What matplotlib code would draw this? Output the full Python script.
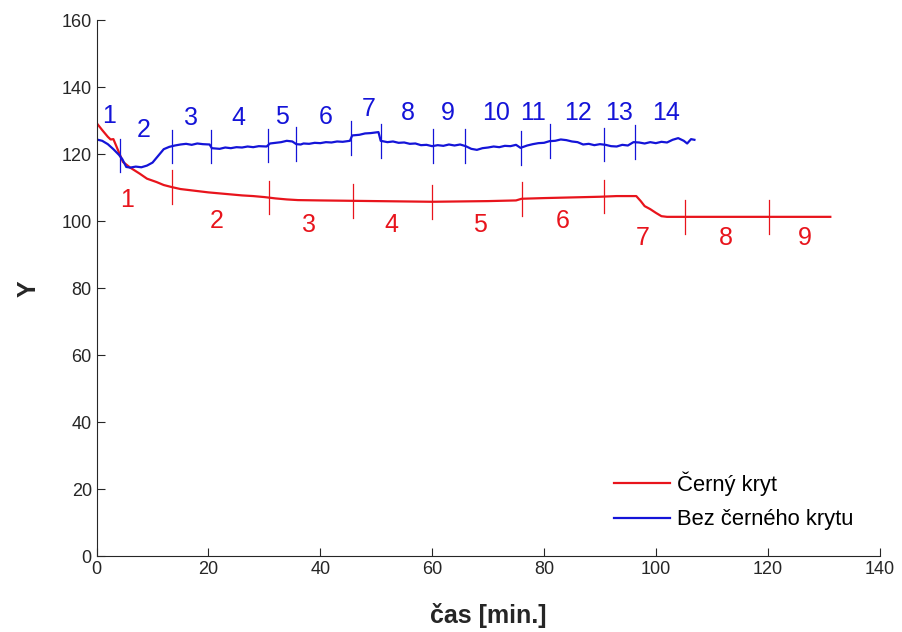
import numpy as np
import matplotlib.pyplot as plt

plt.rcParams['font.family'] = ['Liberation Sans', 'DejaVu Sans']

# red series: "Černý kryt"
red_t = [0, 1, 2, 2.5, 3, 3.5, 4, 4.7, 6, 7.7, 9, 10.7, 12, 13.4, 15, 16, 18, 20,
         22, 24, 26, 28, 30, 32, 34, 36, 40, 45, 50, 55, 60, 65, 70, 75, 76, 80,
         85, 90, 93, 96.5, 97.3, 98, 99, 100, 101, 102, 110, 120, 131.2]
red_y = [129.3, 127.2, 125.2, 124.4, 124.5, 122.5, 120.5, 117.7, 116.0, 114.2,
         112.7, 111.7, 110.8, 110.2, 109.6, 109.4, 109.0, 108.6,
         108.3, 108.0, 107.7, 107.5, 107.2, 106.8, 106.5, 106.3, 106.2, 106.1,
         106.0, 105.9, 105.8, 105.9, 106.0, 106.2, 106.7, 106.9, 107.1, 107.3,
         107.5, 107.5, 106.0, 104.5, 103.6, 102.5, 101.5, 101.3, 101.3, 101.3, 101.3]

# blue series: "Bez černého krytu"
blue_t = [0, 1, 2, 3, 4, 4.6, 5.3, 6, 7, 8, 9, 10, 11, 12, 13, 14, 15, 16, 17, 18,
          19, 20.2, 20.6, 22, 23, 24, 25, 26, 27, 28, 29, 30.4, 31, 32, 33, 34, 35,
          35.7, 36.5, 37, 38, 39, 40, 41, 42, 43, 44, 45.3, 45.7, 47, 48, 49, 50.4,
          50.8, 52, 53, 54, 55, 56, 57, 58, 59, 60, 61, 62, 63, 64, 65, 66, 67, 68,
          69, 70, 71, 72, 73, 74, 75, 75.8, 77, 78, 79, 80, 81, 82, 83, 84, 85, 86,
          87, 88, 89, 90, 91, 92, 93, 94, 95, 96, 97, 98, 99, 100, 101, 102, 103,
          104, 105, 105.6, 106.3, 106.9]
blue_y = [124.4, 124.0, 123.0, 121.5, 119.8, 118.5, 116.2, 116.0, 116.3, 116.1,
          116.6, 117.5, 119.5, 121.5, 122.2, 122.6, 122.9, 123.1, 122.8, 123.2,
          123.0, 122.9, 121.8, 121.6, 122.0, 121.8, 122.1, 122.0, 122.3, 122.1,
          122.4, 122.3, 123.2, 123.4, 123.6, 124.0, 123.8, 123.0, 122.9, 123.2,
          123.1, 123.4, 123.3, 123.6, 123.5, 123.8, 123.7, 124.0, 125.6, 125.8,
          126.2, 126.3, 126.6, 124.0, 123.6, 123.8, 123.4, 123.5, 123.1, 123.2,
          122.7, 122.8, 122.4, 122.7, 122.5, 122.9, 122.6, 122.9, 122.4, 121.6,
          121.3, 121.8, 122.0, 122.3, 122.1, 122.5, 122.4, 122.8, 121.9, 122.6,
          123.0, 123.3, 123.4, 123.9, 124.0, 124.4, 124.2, 123.8, 123.6, 122.9,
          123.1, 122.7, 123.0, 122.8, 122.4, 122.3, 122.8, 122.6, 123.6, 123.5,
          123.2, 123.6, 123.3, 123.7, 123.5, 124.3, 124.8, 124.0, 123.2, 124.5, 124.3]

# segment boundaries
red_bounds = [13.4, 30.9, 45.8, 60.0, 76.0, 90.8, 105.3, 120.3]
blue_bounds = [4.1, 13.4, 20.4, 30.6, 35.7, 45.5, 50.9, 60.1, 65.8, 75.8, 81.1,
               90.8, 96.2]

# segment numbers and where they are written
red_labels = [str(i) for i in range(1, 10)]
red_lab_x = [5.5, 21.5, 37.9, 52.7, 68.5, 83.3, 97.6, 112.6, 126.6]
red_lab_y = [106.3, 100.0, 98.8, 98.8, 98.8, 100.0, 95.0, 95.0, 95.0]
blue_labels = [str(i) for i in range(1, 15)]
blue_lab_x = [2.3, 8.4, 16.8, 25.3, 33.2, 41.0, 48.7, 55.6, 62.8, 71.5, 78.1,
              86.0, 93.5, 101.8]
blue_lab_y = [131.5, 127.2, 130.8, 130.7, 131.2, 131.0, 133.4, 132.2, 132.2,
              132.2, 132.2, 132.2, 132.2, 132.2]

RED = '#e8141c'
BLUE = '#1414d8'

fig = plt.figure(figsize=(9.03, 6.32), dpi=100)
ax = fig.add_axes([0.107, 0.120, 0.867, 0.848])

ax.plot(red_t, red_y, color=RED, lw=1.6, label='Černý kryt')
ax.plot(blue_t, blue_y, color=BLUE, lw=1.6, label='Bez černého krytu')

for b in red_bounds:
    yc = np.interp(b, red_t, red_y)
    ax.plot([b, b], [yc - 5, yc + 5], color=RED, lw=0.9)
for b in blue_bounds:
    yc = np.interp(b, blue_t, blue_y)
    ax.plot([b, b], [yc - 5, yc + 5], color=BLUE, lw=0.9)

for s, x, y in zip(red_labels, red_lab_x, red_lab_y):
    ax.text(x, y, s, color=RED, fontsize=18, ha='center', va='center')
for s, x, y in zip(blue_labels, blue_lab_x, blue_lab_y):
    ax.text(x, y, s, color=BLUE, fontsize=18, ha='center', va='center')

ax.set_xlim(0, 140)
ax.set_ylim(0, 160)
ax.set_xticks(np.arange(0, 141, 20))
ax.set_yticks(np.arange(0, 161, 20))
ax.tick_params(direction='in', labelsize=13, colors='#262626', length=6)
for side in ['top', 'right']:
    ax.spines[side].set_visible(False)
for side in ['left', 'bottom']:
    ax.spines[side].set_color('#262626')

ax.set_xlabel('čas [min.]', fontsize=18, fontweight='bold', labelpad=18,
              color='#262626')
ax.set_ylabel('Y', fontsize=18, fontweight='bold', labelpad=15, color='#262626')

ax.legend(loc='upper left', bbox_to_anchor=(0.647, 0.179), frameon=False,
          fontsize=15.8, borderpad=0, handlelength=2.55, handletextpad=0.3,
          labelspacing=0.62)

fig.savefig('out.png', dpi=100)
